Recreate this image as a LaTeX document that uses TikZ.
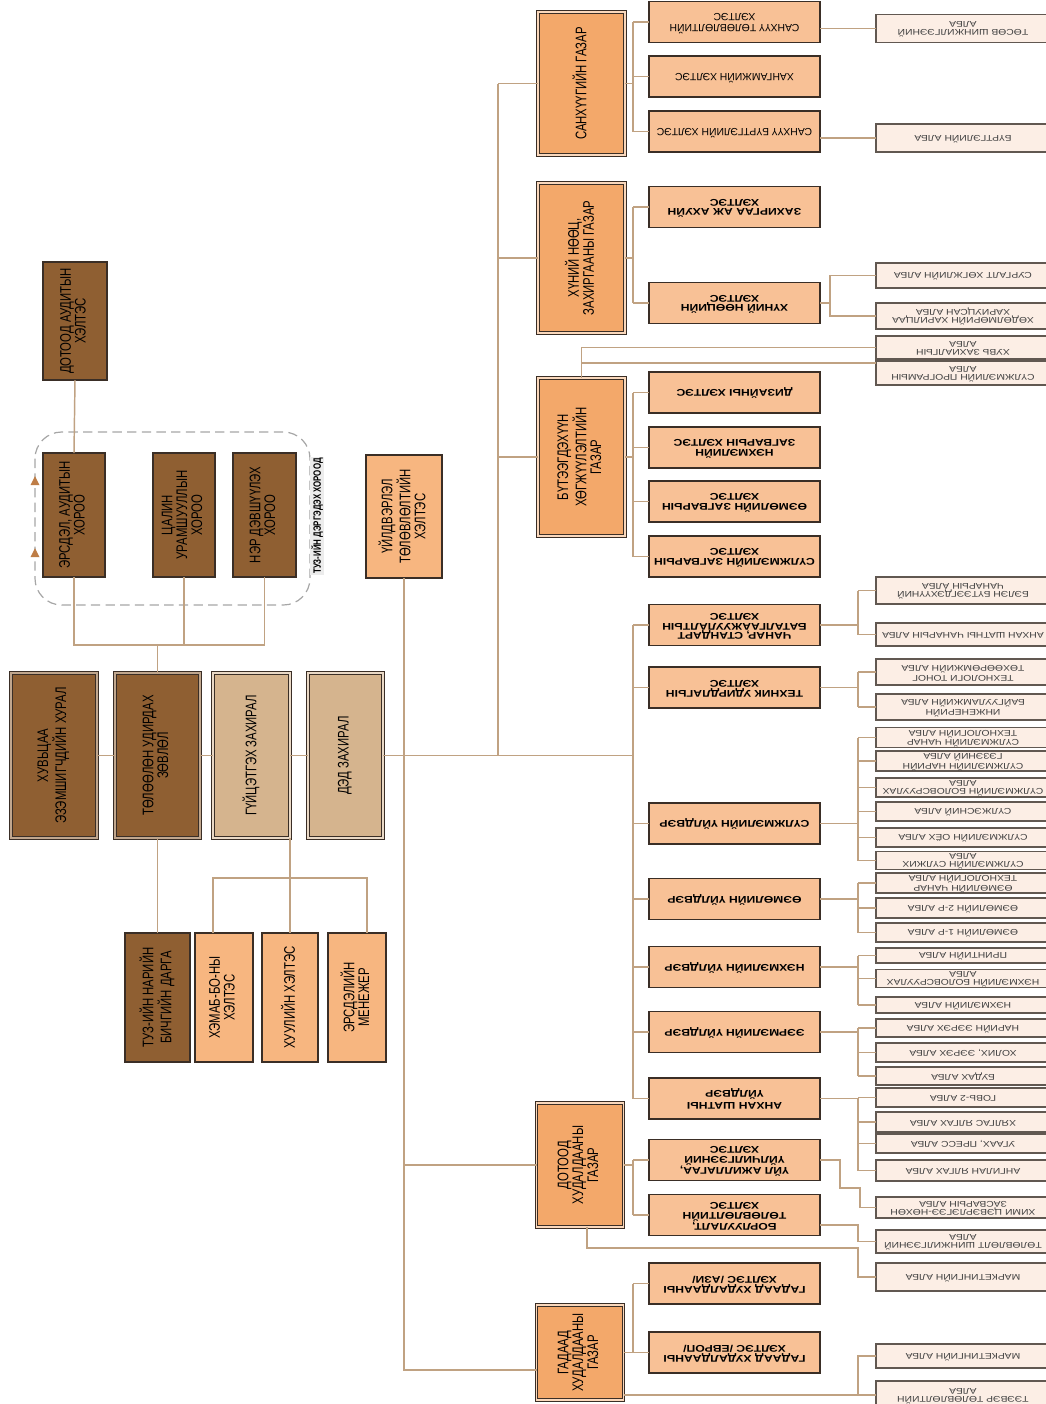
\documentclass[tikz,border=0pt]{standalone}
\usepackage{fontspec}
\setmainfont{Liberation Sans}
\newfontfamily\condfont{Liberation Sans}[FakeStretch=0.74]
\newfontfamily\widefont{Liberation Sans}[FakeStretch=1.25]
\usepackage{graphicx}
\usetikzlibrary{calc}
\definecolor{darkbr}{RGB}{143,95,50}
\definecolor{tanc}{RGB}{213,180,142}
\definecolor{gazarc}{RGB}{243,168,106}
\definecolor{helc}{RGB}{248,193,150}
\definecolor{peachc}{RGB}{247,182,128}
\definecolor{albac}{RGB}{252,238,229}
\definecolor{linec}{RGB}{192,162,130}
\definecolor{edgec}{RGB}{58,46,38}
\definecolor{arrc}{RGB}{190,125,70}
\renewcommand{\arraystretch}{0.92}
\newcommand{\vtxt}[1]{\rotatebox{90}{\begin{tabular}{@{}c@{}}#1\end{tabular}}}
\newcommand{\utxt}[1]{\rotatebox{180}{\begin{tabular}{@{}c@{}}#1\end{tabular}}}

\begin{document}
\begin{tikzpicture}[x=0.75pt, y=-0.75pt,
  sz/.style 2 args={minimum width=#1*0.75pt, minimum height=#2*0.75pt},
  bx/.style={draw=edgec, line width=0.9pt, inner sep=0pt, outer sep=0pt},
  dbl/.style={line width=0.8pt, double=#1, double distance=1.1pt},
  vt/.style={font=\condfont\fontsize{11.5}{11.5}\selectfont},
  dk/.style={bx, vt, fill=darkbr},
  tn/.style={bx, vt, fill=tanc},
  pc/.style={bx, vt, fill=peachc},
  gz/.style={bx, vt, fill=gazarc, dbl=gazarc!45!white},
  hl/.style={bx, sz={171}{41}, fill=helc, font=\fontsize{7.8}{8.6}\selectfont},
  hb/.style={bx, sz={171}{41}, fill=helc, font=\widefont\bfseries\fontsize{7.3}{8}\selectfont},
  al/.style={bx, draw=edgec!80, line width=0.8pt, fill=albac, text=black!75,
             font=\widefont\fontsize{6.2}{6.3}\selectfont},
  conn/.style={draw=linec, line width=1.1pt}]
\useasboundingbox (0,0) rectangle (1046,1404);
\clip (0,0) rectangle (1046,1404);

\draw[gray!70, line width=0.9pt, dash pattern=on 7pt off 4pt, rounded corners=20pt] (35,432) rectangle (310,605);
\fill[arrc] (35,476) -- (39.5,485) -- (30.5,485) -- cycle;
\fill[arrc] (35,548) -- (39.5,557) -- (30.5,557) -- cycle;

\node[dk, sz={64}{118}] (dotaud) at (75,321) {\vtxt{ДОТООД АУДИТЫН\\ХЭЛТЭС}};
\node[dk, sz={62}{124}] (erdel) at (74,515) {\vtxt{ЭРСДЭЛ, АУДИТЫН\\ХОРОО}};
\node[dk, sz={62}{124}] (tsalin) at (184,515) {\vtxt{ЦАЛИН\\УРАМШУУЛЛЫН\\ХОРОО}};
\node[dk, sz={63}{124}] (nerd) at (264.5,515) {\vtxt{НЭР ДЭВШҮҮЛЭХ\\ХОРОО}};
\node[fill=gray!15, inner sep=1pt, font=\condfont\bfseries\fontsize{8}{8}\selectfont] (tuzlbl) at (317,516) {\rotatebox{90}{ТУЗ-ИЙН ДЭРГЭДЭХ ХОРООД}};

\node[dk, dbl=darkbr!55!white, sz={86}{165}] (huvits) at (54,755.5) {\vtxt{ХУВЬЦАА\\ЭЗЭМШИГЧДИЙН ХУРАЛ}};
\node[dk, dbl=darkbr!55!white, sz={85}{165}] (tuz) at (157.5,755.5) {\vtxt{ТӨЛӨӨЛӨН УДИРДАХ\\ЗӨВЛӨЛ}};
\node[tn, dbl=tanc!50!white, sz={77}{165}] (guits) at (251.5,755.5) {\vtxt{ГҮЙЦЭТГЭХ ЗАХИРАЛ}};
\node[tn, dbl=tanc!50!white, sz={75}{165}] (ded) at (345.5,755.5) {\vtxt{ДЭД ЗАХИРАЛ}};

\node[dk, sz={65}{129}] (narin) at (157.5,997.5) {\vtxt{ТУЗ-ИЙН НАРИЙН\\БИЧГИЙН ДАРГА}};
\node[pc, sz={58}{129}] (hemab) at (224,997.5) {\vtxt{ХЭМАБ-БО-НЫ\\ХЭЛТЭС}};
\node[pc, sz={56}{129}] (huuli) at (290,997.5) {\vtxt{ХУУЛИЙН ХЭЛТЭС}};
\node[pc, sz={58}{129}] (ersmen) at (357,997.5) {\vtxt{ЭРСДЭЛИЙН\\МЕНЕЖЕР}};
\node[pc, sz={76}{123}] (uildver) at (404,516.5) {\vtxt{ҮЙЛДВЭРЛЭЛ\\ТӨЛӨВЛӨЛТИЙН\\ХЭЛТЭС}};

\node[gz, sz={87}{143}] (sanhuu) at (581.5,83.5) {\vtxt{САНХҮҮГИЙН ГАЗАР}};
\node[gz, sz={87}{150}] (hunii) at (581.5,258) {\vtxt{ХҮНИЙ НӨӨЦ,\\ЗАХИРГААНЫ ГАЗАР}};
\node[gz, sz={87}{158}] (buteeg) at (581.5,457) {\vtxt{БҮТЭЭГДЭХҮҮН\\ХӨГЖҮҮЛЭЛТИЙН\\ГАЗАР}};
\node[gz, sz={87}{124}] (dotood) at (580,1165) {\vtxt{ДОТООД\\ХУДАЛДААНЫ\\ГАЗАР}};
\node[gz, sz={87}{95}] (gadaad) at (580,1352.5) {\vtxt{ГАДААД\\ХУДАЛДААНЫ\\ГАЗАР}};

\node[hl] (h1) at (734.5,22) {\utxt{САНХҮҮ ТӨЛӨВЛӨЛТИЙН\\ХЭЛТЭС}};
\node[hl] (h2) at (734.5,76.5) {\utxt{ХАНГАМЖИЙН ХЭЛТЭС}};
\node[hl] (h3) at (734.5,131.5) {\utxt{САНХҮҮ БҮРТГЭЛИЙН ХЭЛТЭС}};
\node[hb] (h4) at (734.5,207) {\utxt{ЗАХИРГАА АЖ АХУЙН\\ХЭЛТЭС}};
\node[hb] (h5) at (734.5,303) {\utxt{ХҮНИЙ НӨӨЦИЙН\\ХЭЛТЭС}};
\node[hb] (h6) at (734.5,392.5) {\utxt{ДИЗАЙНЫ ХЭЛТЭС}};
\node[hb] (h7) at (734.5,447.5) {\utxt{НЭХМЭЛИЙН\\ЗАГВАРЫН ХЭЛТЭС}};
\node[hb] (h8) at (734.5,501.5) {\utxt{ӨЭМӨЛИЙН ЗАГВАРЫН\\ХЭЛТЭС}};
\node[hb] (h9) at (734.5,556.5) {\utxt{СҮЛЖМЭЛИЙН ЗАГВАРЫН\\ХЭЛТЭС}};
\node[hb] (h10) at (734.5,625) {\utxt{ЧАНАР, СТАНДАРТ\\БАТАЛГААЖУУЛАЛТЫН\\ХЭЛТЭС}};
\node[hb] (h11) at (734.5,687.5) {\utxt{ТЕХНИК УДИРДЛАГЫН\\ХЭЛТЭС}};
\node[hb] (h12) at (734.5,823.5) {\utxt{СҮЛЖМЭЛИЙН ҮЙЛДВЭР}};
\node[hb] (h13) at (734.5,899) {\utxt{ӨЭМӨЛИЙН ҮЙЛДВЭР}};
\node[hb] (h14) at (734.5,967) {\utxt{НЭХМЭЛИЙН ҮЙЛДВЭР}};
\node[hb] (h15) at (734.5,1032) {\utxt{ЭЭРМЭЛИЙН ҮЙЛДВЭР}};
\node[hb] (h16) at (734.5,1098.5) {\utxt{АНХАН ШАТНЫ\\ҮЙЛДВЭР}};
\node[hb] (h17) at (734.5,1160) {\utxt{ҮЙЛ АЖИЛЛАГАА,\\ҮЙЛЧИЛГЭЭНИЙ\\ХЭЛТЭС}};
\node[hb] (h18) at (734.5,1215) {\utxt{БОРЛУУЛАЛТ,\\ТӨЛӨВЛӨЛТИЙН\\ХЭЛТЭС}};
\node[hb] (h19) at (734.5,1283.5) {\utxt{ГАДААД ХУДАЛДААНЫ\\ХЭЛТЭС /АЗИ/}};
\node[hb] (h20) at (734.5,1352.5) {\utxt{ГАДААД ХУДАЛДААНЫ\\ХЭЛТЭС /ЕВРОП/}};

\node[al, sz={174}{28}] (a1) at (963,28.5) {\utxt{ТӨСӨВ ШИНЖИЛГЭЭНИЙ\\АЛБА}};
\node[al, sz={174}{28}] (a2) at (963,138) {\utxt{БҮРТГЭЛИЙН АЛБА}};
\node[al, sz={174}{25}] (a3) at (963,275.5) {\utxt{СУРГАЛТ ХӨГЖЛИЙН АЛБА}};
\node[al, sz={174}{26}] (a4) at (963,316) {\utxt{ХӨДӨЛМӨРИЙН ХАРИЛЦАА\\ХАРИУЦСАН АЛБА}};
\node[al, sz={174}{23}] (a5) at (963,347.5) {\utxt{ХУВЬ ЗАХИАЛГЫН\\АЛБА}};
\node[al, sz={174}{24}] (a6) at (963,373) {\utxt{СҮЛЖМЭЛИЙН ПРОГРАМЫН\\АЛБА}};
\node[al, sz={174}{27}] (a7) at (963,590.5) {\utxt{БЭЛЭН БҮТЭЭГДЭХҮҮНИЙ\\ЧАНАРЫН АЛБА}};
\node[al, sz={174}{23}] (a8) at (963,634.5) {\utxt{АНХАН ШАТНЫ ЧАНАРЫН АЛБА}};
\node[al, sz={174}{26}] (a9) at (963,672) {\utxt{ТЕХНОЛОГИ ТОНОГ\\ТӨХӨӨРӨМЖИЙН АЛБА}};
\node[al, sz={174}{26}] (a10) at (963,707) {\utxt{ИНЖЕНЕРИЙН\\БАЙГУУЛАМЖИЙН АЛБА}};
\node[al, sz={174}{19}] (a11) at (963,737.5) {\utxt{СҮЛЖМЭЛИЙН ЧАНАР\\ТЕХНОЛОГИЙН АЛБА}};
\node[al, sz={174}{20}] (a12) at (963,761) {\utxt{СҮЛЖМЭЛИЙН НАРИЙН\\ГЭЗЭНИЙ АЛБА}};
\node[al, sz={174}{19}] (a13) at (963,787.5) {\utxt{СҮЛЖМЭЛИЙН БОЛОВСРУУЛАХ\\АЛБА}};
\node[al, sz={174}{19}] (a14) at (963,811.5) {\utxt{СҮЛЖЭСНИЙ АЛБА}};
\node[al, sz={174}{19}] (a15) at (963,837.5) {\utxt{СҮЛЖМЭЛИЙН ОЁХ АЛБА}};
\node[al, sz={174}{17}] (a16) at (963,860.5) {\utxt{СҮЛЖМЭЛИЙН СҮЛЖИХ\\АЛБА}};
\node[al, sz={174}{20}] (a17) at (963,883) {\utxt{ӨЭМӨЛИЙН ЧАНАР\\ТЕХНОЛОГИЙН АЛБА}};
\node[al, sz={174}{20}] (a18) at (963,908) {\utxt{ӨЭМӨЛИЙН 2-Р АЛБА}};
\node[al, sz={174}{19}] (a19) at (963,932.5) {\utxt{ӨЭМӨЛИЙН 1-Р АЛБА}};
\node[al, sz={174}{15}] (a20) at (963,955.5) {\utxt{ПРИНТИЙН АЛБА}};
\node[al, sz={174}{17}] (a21) at (963,978.5) {\utxt{НЭХМЭЛИЙН БОЛОВСРУУЛАХ\\АЛБА}};
\node[al, sz={174}{16}] (a22) at (963,1005) {\utxt{НЭХМЭЛИЙН АЛБА}};
\node[al, sz={174}{18}] (a23) at (963,1028) {\utxt{НАРИЙН ЭЭРЭХ АЛБА}};
\node[al, sz={174}{19}] (a24) at (963,1052.5) {\utxt{ХОЛИХ, ЭЭРЭХ АЛБА}};
\node[al, sz={174}{18}] (a25) at (963,1076) {\utxt{БУДАХ АЛБА}};
\node[al, sz={174}{19}] (a26) at (963,1097.5) {\utxt{ГОВЬ-2 АЛБА}};
\node[al, sz={174}{20}] (a27) at (963,1122) {\utxt{ХЯЛГАС ЯЛГАХ АЛБА}};
\node[al, sz={174}{19}] (a28) at (963,1143.5) {\utxt{УГААХ, ПРЕСС АЛБА}};
\node[al, sz={174}{21}] (a29) at (963,1170.5) {\utxt{АНГИЛАН ЯЛГАХ АЛБА}};
\node[al, sz={174}{21}] (a30) at (963,1207.5) {\utxt{ХИМИ ЦЭВЭРЛЭГЭЭ-НӨХӨН\\ЗАСВАРЫН АЛБА}};
\node[al, sz={174}{23}] (a31) at (963,1241.5) {\utxt{ТӨЛӨВЛӨЛТ ШИНЖИЛГЭЭНИЙ\\АЛБА}};
\node[al, sz={174}{28}] (a32) at (963,1277) {\utxt{МАРКЕТИНГИЙН АЛБА}};
\node[al, sz={174}{24}] (a33) at (963,1356) {\utxt{МАРКЕТИНГИЙН АЛБА}};
\node[al, sz={174}{28}] (a34) at (963,1395) {\utxt{ТЭЭВЭР ТӨЛӨВЛӨЛТИЙН\\АЛБА}};

\draw[conn] (dotaud.south) -- (erdel.north);
\coordinate (kbus) at (157.5,645);
\draw[conn] (erdel.south) |- (kbus) -| (nerd.south);
\draw[conn] (tsalin.south) -- (tsalin.south |- kbus);
\draw[conn] (kbus) -- (tuz.north);
\draw[conn] (huvits.east) -- (tuz.west);
\draw[conn] (tuz.east) -- (guits.west);
\draw[conn] (guits.east) -- (ded.west);
\draw[conn] (tuz.south) -- (narin.north);
\draw[conn] (huuli.north) -- (huuli.north |- guits.south);
\coordinate (lbus) at (290,878);
\draw[conn] ($(hemab.north)+(-11,0)$) |- (lbus) -| ($(ersmen.north)+(10,0)$);

\coordinate (ztrunk) at (498,0);
\coordinate (gbus) at (633,0);
\coordinate (hbus) at (830,0);
\coordinate (abus) at (858,0);
\draw[conn] (ded.east) -- (ded.east -| gbus);
\draw[conn] (sanhuu.west -| ztrunk) -- (ded.east -| ztrunk);
\foreach \gz in {sanhuu,hunii,buteeg}
\draw[conn] (\gz.west) -- (\gz.west -| ztrunk);
\draw[conn] (uildver.south) |- ($(gadaad.west)+(0,17.5)$);
\draw[conn] (dotood.west) -- (dotood.west -| uildver.south);

\draw[conn] (h10.west -| gbus) -- (h16.west -| gbus);
\foreach \k in {10,...,16}
\draw[conn] (h\k.west) -- (h\k.west -| gbus);
\foreach \gz/\fh/\lh in {sanhuu/1/3, hunii/4/5, buteeg/6/9, dotood/17/18, gadaad/19/20}{
\draw[conn] (\gz.east) -- (\gz.east -| gbus);
\draw[conn] (h\fh.west -| gbus) -- (h\lh.west -| gbus);
\foreach \k in {\fh,...,\lh}
\draw[conn] (h\k.west) -- (h\k.west -| gbus);
}

\draw[conn] (a1.west) -- (a1.west -| h1.east);
\draw[conn] (a2.west) -- (a2.west -| h3.east);
\draw[conn] (h5.east) -- (h5.east -| hbus);
\draw[conn] (a3.west) -| (a4.west -| hbus) -- (a4.west);
\draw[conn] (buteeg.north) |- (a5.west);
\draw[conn] ($(a6.west)+(0,-10)$) -| (buteeg.north);
\foreach \hh/\fa/\la in {h10/7/8, h11/9/10, h12/11/16, h13/17/19, h14/20/22, h15/23/25, h16/26/29}{
\draw[conn] (\hh.east) -- (\hh.east -| abus);
\draw[conn] (a\fa.west -| abus) -- (a\la.west -| abus);
\foreach \k in {\fa,...,\la}
\draw[conn] (a\k.west) -- (a\k.west -| abus);
}
\draw[conn] (h17.east) -- ++(20,0) |- ++(20,28) |- (a30.west);
\draw[conn] ($(h18.east)+(0,10)$) -| ($(a31.west)+(-18,0)$) -- (a31.west);
\draw[conn] ($(dotood.south)+(7,0)$) -- ++(0,21) -| ($(a32.west)+(-18,0)$) -- (a32.west);
\draw[conn] (gadaad.east |- a34.west) -- (a34.west);
\draw[conn] (a33.west) -- ++(-18,0) |- (a34.west);
\end{tikzpicture}
\end{document}
